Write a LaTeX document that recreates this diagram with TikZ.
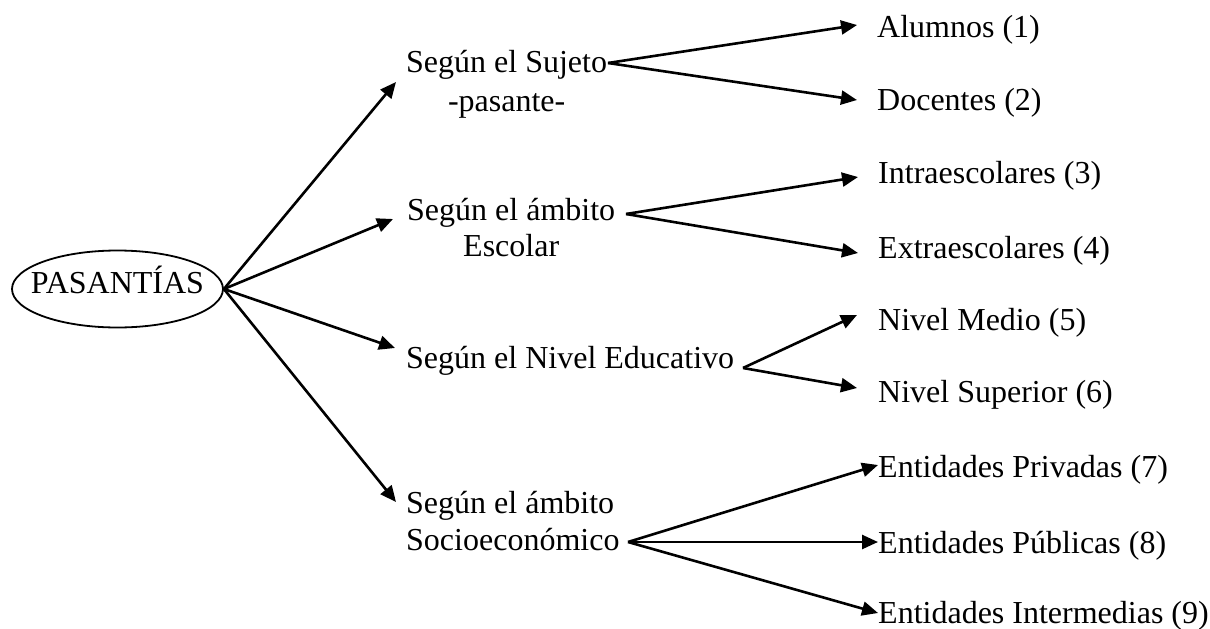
\documentclass[tikz,border=0pt]{standalone}
\usepackage{fontspec}
\setmainfont{Liberation Serif}
\usetikzlibrary{arrows.meta,shapes.geometric}
\begin{document}
\begin{tikzpicture}[x=1pt,y=-1pt,
  txt/.style={font=\fontsize{32}{37}\selectfont, inner sep=0pt},
  lbl/.style={txt, anchor=base west},
  arr/.style={line width=2.6pt, -{Triangle[length=16pt,width=14pt]}}]
\useasboundingbox (0,0) rectangle (1210,629);
% root
\node[draw, ellipse, line width=1.8pt, minimum width=211pt, minimum height=77pt,
      inner xsep=-14pt, inner ysep=0pt, font=\fontsize{32}{37}\selectfont, text height=22pt, text depth=14pt]
      (root) at (117.5,289) {PASANTÍAS};
% middle nodes
\node[txt, anchor=north west, align=center, font=\fontsize{32}{39}\selectfont] (s1) at (406,50) {Según el Sujeto\\-pasante-};
\node[txt, anchor=north west, align=center, font=\fontsize{32}{36}\selectfont] (s2) at (407,198) {Según el ámbito\\Escolar};
\node[lbl] (s3) at (406,368) {Según el Nivel Educativo};
\node[txt, anchor=north west, align=left] (s4) at (406,491) {Según el ámbito\\Socioeconómico};
% leaves
\node[lbl] (l1) at (877,37) {Alumnos (1)};
\node[lbl] (l2) at (877,110) {Docentes (2)};
\node[lbl] (l3) at (878,183) {Intraescolares (3)};
\node[lbl] (l4) at (878,258) {Extraescolares (4)};
\node[lbl] (l5) at (878,330) {Nivel Medio (5)};
\node[lbl] (l6) at (878,402) {Nivel Superior (6)};
\node[lbl] (l7) at (878,477) {Entidades Privadas (7)};
\node[lbl] (l8) at (878,553) {Entidades Públicas (8)};
\node[lbl] (l9) at (878,623) {Entidades Intermedias (9)};
% connector points
\coordinate (e1) at (396,82);
\coordinate (e2) at (393,219);
\coordinate (e3) at (395,348);
\coordinate (e4) at (396,502);
\coordinate (b1) at (608,63);
\coordinate (b2) at (626,214);
\coordinate (b3) at (743,368);
\coordinate (b4) at (628,542);
\coordinate (t1) at (857,25);
\coordinate (t2) at (857,100);
\coordinate (t3) at (858,177);
\coordinate (t4) at (858,253);
\coordinate (t5) at (857,315);
\coordinate (t6) at (857,388);
\coordinate (t7) at (878,465);
\coordinate (t8) at (878,542);
\coordinate (t9) at (878,613);
% root arrows
\foreach \e in {e1,e2,e3,e4} \draw[arr] (root.east) -- (\e);
% branch arrows
\draw[arr] (b1) -- (t1);
\draw[arr] (b1) -- (t2);
\draw[arr] (b2) -- (t3);
\draw[arr] (b2) -- (t4);
\draw[arr] (b3) -- (t5);
\draw[arr] (b3) -- (t6);
\draw[arr] (b4) -- (t7);
\draw[arr] (b4) -- (t8);
\draw[arr] (b4) -- (t9);
\end{tikzpicture}
\end{document}
